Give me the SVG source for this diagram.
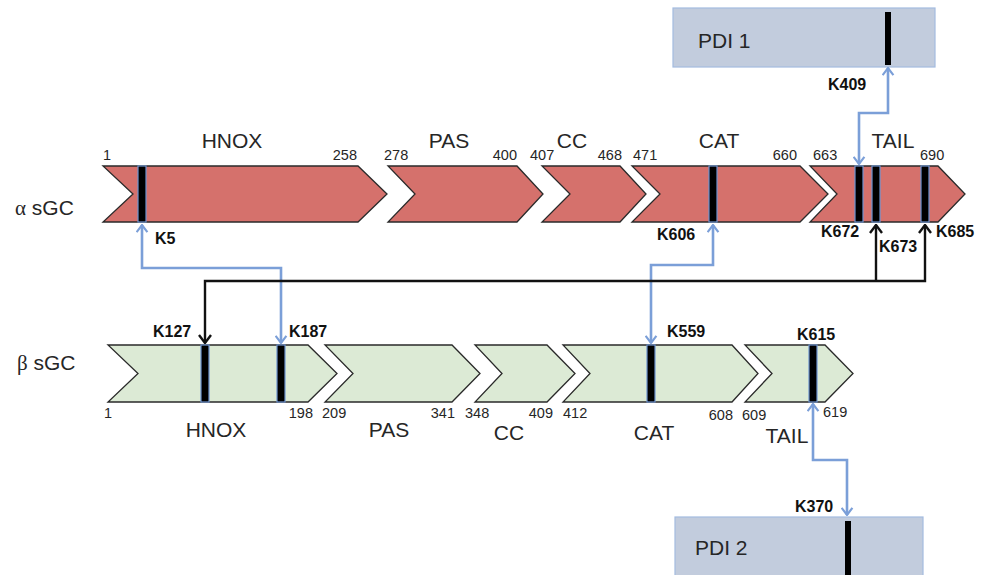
<svg xmlns="http://www.w3.org/2000/svg" width="988" height="575" viewBox="0 0 988 575">
<style>
.a{fill:#d5716c;stroke:#2a2a2a;stroke-width:1.3}
.b{fill:#dcead5;stroke:#2a2a2a;stroke-width:1.3}
.pdi{fill:#c2ccdd;stroke:#a3bbe0;stroke-width:1.2}
.k{fill:#000;stroke:#6d93d0;stroke-width:1.2}
.kp{fill:#000}
.t{font-family:"Liberation Sans",Arial,sans-serif;fill:#262626}
.dom{font-size:21px}
.num{font-size:14.5px}
.lab{font-size:16px;font-weight:bold;fill:#111}
.blue{fill:none;stroke:#7b9fd8;stroke-width:2.6}
.blk{fill:none;stroke:#111;stroke-width:2.4}
</style>
<defs>
<marker id="mb" viewBox="0 0 10 14" refX="9" refY="7" markerWidth="9" markerHeight="13" markerUnits="userSpaceOnUse" orient="auto-start-reverse">
<path d="M1,1 L9,7 L1,13" fill="none" stroke="#7b9fd8" stroke-width="2.4"/>
</marker>
<marker id="mk" viewBox="0 0 10 14" refX="9" refY="7" markerWidth="10" markerHeight="14" markerUnits="userSpaceOnUse" orient="auto-start-reverse">
<path d="M1,1 L9,7 L1,13" fill="none" stroke="#111" stroke-width="2.4"/>
</marker>
</defs>

<text class="t" x="15" y="215" font-size="21"><tspan font-family="Liberation Serif,serif">α</tspan> sGC</text>
<text class="t" x="17" y="370" font-size="21"><tspan font-family="Liberation Serif,serif">β</tspan> sGC</text>

<g id="pdi1">
<rect class="pdi" x="673" y="8" width="262" height="59"/>
<text class="t dom" x="698" y="48">PDI 1</text>
<rect class="kp" x="885" y="12" width="6" height="53"/>
<text class="t lab" x="828" y="90">K409</text>
</g>

<g id="pdi2">
<rect class="pdi" x="675" y="517" width="248" height="62"/>
<text class="t dom" x="695" y="555">PDI 2</text>
<rect class="kp" x="845" y="521" width="6" height="56"/>
<text class="t lab" x="795" y="512">K370</text>
</g>

<g id="alpha-hnox">
<polygon class="a" points="103,166 358,166 387,194 358,222 103,222 133,194"/>
<text class="t dom" x="232" y="148" text-anchor="middle">HNOX</text>
<text class="t num" x="103" y="160">1</text>
<text class="t num" x="357" y="160" text-anchor="end">258</text>
</g>
<g id="alpha-pas">
<polygon class="a" points="388,166 517,166 543,194 517,222 388,222 415,194"/>
<text class="t dom" x="449" y="148" text-anchor="middle">PAS</text>
<text class="t num" x="384" y="160">278</text>
<text class="t num" x="517" y="160" text-anchor="end">400</text>
</g>
<g id="alpha-cc">
<polygon class="a" points="542,166 620,166 646,194 620,222 542,222 570,194"/>
<text class="t dom" x="572" y="148" text-anchor="middle">CC</text>
<text class="t num" x="530" y="160">407</text>
<text class="t num" x="622" y="160" text-anchor="end">468</text>
</g>
<g id="alpha-cat">
<polygon class="a" points="632,166 800,166 828,194 800,222 632,222 660,194"/>
<text class="t dom" x="719" y="148" text-anchor="middle">CAT</text>
<text class="t num" x="633" y="160">471</text>
<text class="t num" x="797" y="160" text-anchor="end">660</text>
</g>
<g id="alpha-tail">
<polygon class="a" points="810,166 938,166 965,194 938,222 810,222 837,194"/>
<text class="t dom" x="893" y="148" text-anchor="middle">TAIL</text>
<text class="t num" x="813" y="160">663</text>
<text class="t num" x="920" y="160">690</text>
</g>

<g id="beta-hnox">
<polygon class="b" points="108,345 308,345 337,373.5 308,402 108,402 138,373.5"/>
<text class="t dom" x="216" y="437" text-anchor="middle">HNOX</text>
<text class="t num" x="104" y="418">1</text>
<text class="t num" x="313" y="418" text-anchor="end">198</text>
</g>
<g id="beta-pas">
<polygon class="b" points="325,345 452,345 480,373.5 452,402 325,402 353,373.5"/>
<text class="t dom" x="389" y="437" text-anchor="middle">PAS</text>
<text class="t num" x="322" y="418">209</text>
<text class="t num" x="455" y="418" text-anchor="end">341</text>
</g>
<g id="beta-cc">
<polygon class="b" points="475,345 547,345 575,373.5 547,402 475,402 502,373.5"/>
<text class="t dom" x="509" y="440" text-anchor="middle">CC</text>
<text class="t num" x="465" y="418">348</text>
<text class="t num" x="553" y="418" text-anchor="end">409</text>
</g>
<g id="beta-cat">
<polygon class="b" points="563,345 732,345 758,373.5 732,402 563,402 590,373.5"/>
<text class="t dom" x="654" y="440" text-anchor="middle">CAT</text>
<text class="t num" x="563" y="418">412</text>
<text class="t num" x="733" y="420" text-anchor="end">608</text>
</g>
<g id="beta-tail">
<polygon class="b" points="745,345 825,345 853,373.5 825,402 745,402 772,373.5"/>
<text class="t dom" x="787" y="443" text-anchor="middle">TAIL</text>
<text class="t num" x="742" y="420">609</text>
<text class="t num" x="823" y="417">619</text>
</g>

<g id="sites">
<rect class="k" x="138" y="166" width="8" height="56"/>
<rect class="k" x="709" y="166" width="8" height="56"/>
<rect class="k" x="855" y="166" width="8" height="56"/>
<rect class="k" x="872" y="166" width="8" height="56"/>
<rect class="k" x="921" y="166" width="8" height="56"/>
<rect class="k" x="201" y="345" width="8" height="57"/>
<rect class="k" x="277" y="345" width="8" height="57"/>
<rect class="k" x="647" y="345" width="8" height="57"/>
<rect class="k" x="809" y="345" width="8" height="57"/>
<text class="t lab" x="155" y="244">K5</text>
<text class="t lab" x="657" y="240">K606</text>
<text class="t lab" x="821" y="237">K672</text>
<text class="t lab" x="879" y="252">K673</text>
<text class="t lab" x="936" y="237">K685</text>
<text class="t lab" x="153" y="337">K127</text>
<text class="t lab" x="289" y="337">K187</text>
<text class="t lab" x="667" y="337">K559</text>
<text class="t lab" x="797" y="340">K615</text>
</g>

<g id="connectors">
<path class="blue" d="M142,225 V268 H281 V343" marker-start="url(#mb)" marker-end="url(#mb)"/>
<path class="blue" d="M713,225 V265 H651 V343" marker-start="url(#mb)" marker-end="url(#mb)"/>
<path class="blue" d="M888,68 V113 H859 V164" marker-start="url(#mb)" marker-end="url(#mb)"/>
<path class="blue" d="M813,404 V460 H847 V515" marker-start="url(#mb)" marker-end="url(#mb)"/>
<path class="blk" d="M205,343 V281 H925 V225" marker-start="url(#mk)" marker-end="url(#mk)"/>
<path class="blk" d="M876,281 V225" marker-end="url(#mk)"/>
</g>
</svg>
